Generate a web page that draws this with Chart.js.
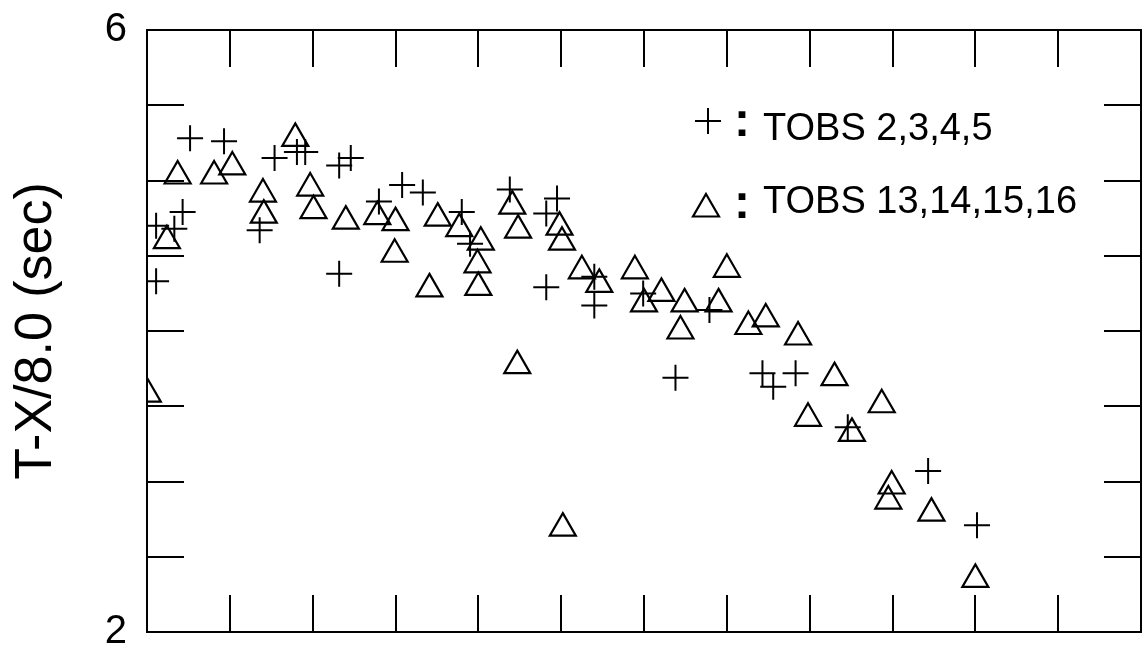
<!DOCTYPE html>
<html>
<head>
<meta charset="utf-8">
<script src="https://cdn.jsdelivr.net/npm/chart.js@4.4.0/dist/chart.umd.min.js"></script>
<style>
    html, body { margin: 0; padding: 0; background: #fff; overflow: hidden; }
    #wrap { width: 1142px; height: 653px; overflow: hidden; }
    #chart { display: block; width: 1142px; height: 653px; }
</style>
</head>
<body>
<div id="wrap"><canvas id="chart" width="1142" height="653"></canvas></div>
<script>
// TOBS 2,3,4,5 (plus markers)
const plusX = [0.11, 0.11, 0.33, 0.43, 0.52, 0.93, 1.36, 1.54, 1.81, 1.91, 2.32, 2.46, 2.32,
    2.80, 3.08, 3.33, 3.80, 3.90, 4.38, 4.82, 4.95, 4.82, 5.40, 5.40, 5.99, 6.38, 6.79,
    7.43, 7.56, 7.83, 8.46, 9.43, 10.02];
const plusY = [4.33, 4.70, 4.68, 4.79, 5.28, 5.26, 4.67, 5.15, 5.19, 5.19, 5.10, 5.15, 4.38,
    4.86, 4.97, 4.92, 4.79, 4.58, 4.94, 4.78, 4.88, 4.29, 4.36, 4.17, 4.25, 3.69, 4.14,
    3.72, 3.63, 3.72, 3.36, 3.07, 2.71];

// TOBS 13,14,15,16 (triangles)
const triX = [0.01, 0.24, 0.37, 0.81, 1.03, 1.40, 1.41, 1.79, 1.97, 2.01, 2.40, 2.78, 3.00,
    2.99, 3.41, 3.51, 3.77, 4.03, 3.99, 4.00, 4.41, 4.48, 4.47, 4.98, 5.01, 5.02, 5.25,
    5.46, 5.89, 6.00, 6.21, 6.44, 6.49, 6.90, 7.00, 7.26, 7.47, 7.86, 7.98, 8.30, 8.51,
    8.87, 8.99, 8.95, 9.47, 10.00];
const triY = [3.58, 4.60, 5.03, 5.03, 5.09, 4.91, 4.77, 5.28, 4.95, 4.80, 4.73, 4.76, 4.72,
    4.51, 4.28, 4.75, 4.68, 4.59, 4.44, 4.29, 4.83, 4.67, 3.77, 4.69, 4.59, 2.69, 4.40,
    4.31, 4.40, 4.18, 4.25, 4.00, 4.18, 4.18, 4.41, 4.03, 4.08, 3.96, 3.42, 3.69, 3.32,
    3.51, 2.97, 2.87, 2.79, 2.35];

// Axis ranges and labelled ticks
const xRange = [0, 12];
const yRange = [2, 6];
const yLabelValues = [2, 6];
const yTitle = 'T-X/8.0 (sec)';
const seriesLabels = ['TOBS 2,3,4,5', 'TOBS 13,14,15,16'];

const FONT = "'Liberation Sans', Arial, Helvetica, sans-serif";

function toPoints(xs, ys) {
    return xs.map((x, i) => ({ x: x, y: ys[i] }));
}

// force a fixed box size, no label overflow padding
function fixBox(w, h) {
    return s => {
        if (w !== null) s.width = w;
        if (h !== null) s.height = h;
        s.paddingTop = 0;
        s.paddingBottom = 0;
        s.paddingLeft = 0;
        s.paddingRight = 0;
    };
}

// Legend drawn inside the plot, marker + colon + text
const cornerLegend = {
    id: 'cornerLegend',
    afterDatasetsDraw(chart) {
        const ctx = chart.ctx;
        const rows = [
            { x: 708, y: 121, colonY: 136, textY: 140 },
            { x: 706, y: 209, colonY: 218, textY: 213 }
        ];
        ctx.save();
        chart.data.datasets.forEach((ds, i) => {
            const r = rows[i];
            ctx.strokeStyle = '#000';
            ctx.fillStyle = 'rgba(0,0,0,0)';
            ctx.lineWidth = ds.borderWidth;
            Chart.helpers.drawPoint(ctx, {
                pointStyle: ds.pointStyle,
                radius: ds.pointRadius,
                rotation: 0,
                borderWidth: ds.borderWidth
            }, r.x, r.y);
            ctx.fillStyle = '#000';
            ctx.textBaseline = 'alphabetic';
            ctx.textAlign = 'left';
            ctx.font = 'bold 48px ' + FONT;
            ctx.fillText(':', 734, r.colonY);
            ctx.font = '38px ' + FONT;
            ctx.fillText(ds.label, 763, r.textY);
        });
        ctx.restore();
    }
};

const tickGrid = {
    drawOnChartArea: false,
    color: '#000',
    lineWidth: 2,
    tickLength: -37
};
const frame = { display: true, color: '#000', width: 2 };

new Chart(document.getElementById('chart'), {
    type: 'scatter',
    data: {
        datasets: [
            {
                label: seriesLabels[0],
                data: toPoints(plusX, plusY),
                pointStyle: 'cross',
                pointRadius: 13,
                borderWidth: 2,
                borderColor: '#000',
                backgroundColor: 'rgba(0,0,0,0)',
                clip: 0
            },
            {
                label: seriesLabels[1],
                data: toPoints(triX, triY),
                pointStyle: 'triangle',
                pointRadius: 15,
                borderWidth: 2.2,
                borderColor: '#000',
                backgroundColor: 'rgba(0,0,0,0)',
                clip: 0
            }
        ]
    },
    options: {
        responsive: false,
        animation: false,
        devicePixelRatio: 1,
        events: [],
        layout: { padding: 0, autoPadding: false },
        plugins: {
            legend: { display: false },
            tooltip: { enabled: false }
        },
        scales: {
            x: {
                type: 'linear',
                position: 'bottom',
                min: xRange[0],
                max: xRange[1],
                ticks: { stepSize: 1, display: false },
                grid: tickGrid,
                border: frame,
                afterFit: fixBox(null, 21)
            },
            x2: {
                type: 'linear',
                position: 'top',
                min: xRange[0],
                max: xRange[1],
                ticks: { stepSize: 1, display: false },
                grid: tickGrid,
                border: frame,
                afterFit: fixBox(null, 30)
            },
            y: {
                type: 'linear',
                position: 'left',
                min: yRange[0],
                max: yRange[1],
                ticks: {
                    stepSize: 0.5,
                    padding: 57,
                    color: '#000',
                    font: { family: FONT, size: 40 },
                    callback: v => yLabelValues.includes(v) ? String(v) : ''
                },
                grid: tickGrid,
                border: frame,
                title: {
                    display: true,
                    text: yTitle,
                    color: '#000',
                    font: { family: FONT, size: 52 },
                    padding: { top: 5, bottom: 0 }
                },
                afterFit: fixBox(147, null)
            },
            y2: {
                type: 'linear',
                position: 'right',
                min: yRange[0],
                max: yRange[1],
                ticks: { stepSize: 0.5, display: false },
                grid: tickGrid,
                border: frame,
                afterFit: fixBox(1, null)
            }
        }
    },
    plugins: [cornerLegend]
});
</script>
</body>
</html>
